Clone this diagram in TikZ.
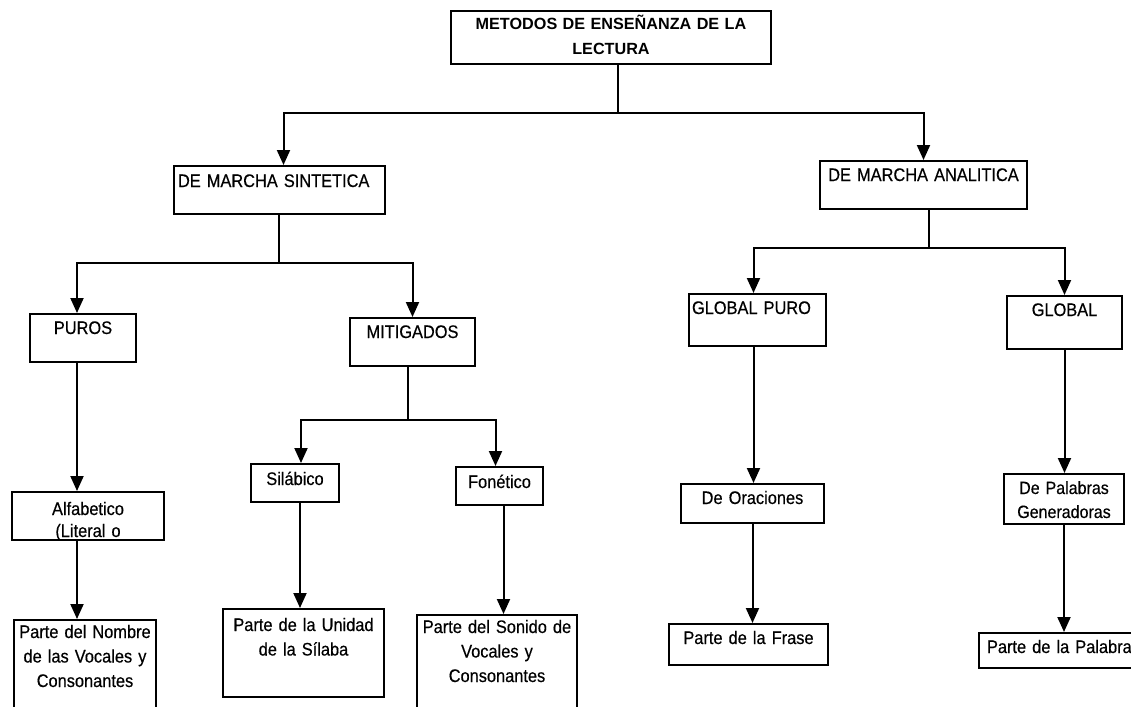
\documentclass[tikz,border=0pt]{standalone}
\usepackage{fontspec}
\setmainfont{Liberation Sans}[FakeStretch=0.9, FakeBold=0.4]
\newfontfamily\titfont{Liberation Sans}
\usetikzlibrary{arrows.meta}
\hyphenpenalty=10000
\tikzset{
  caja/.style={rectangle, draw=black, line width=1pt, inner sep=0pt, anchor=north west, align=center, font=\fontsize{9.1}{12.25}\selectfont},
  linea/.style={line width=1pt},
  flecha/.style={line width=1pt, -{Triangle[length=7.5pt, width=6.5pt]}}
}

\begin{document}
\begin{tikzpicture}[x=0.5pt, y=-0.5pt]
  \clip (0,0) rectangle (1131,707);

  \node (titulo) [caja, text width=160pt, text height=9pt, text depth=17.5pt, font=\titfont\fontsize{8.1}{12.5}\selectfont\bfseries] at (450,10) {METODOS DE ENSEÑANZA DE LA\\ LECTURA};

  \node (sintetica) [caja, align=left, inner xsep=2pt, text width=101.5pt, text height=10.5pt, text depth=13.5pt] at (173,165) {DE MARCHA SINTETICA};
  \node (analitica) [caja, text width=103.5pt, text height=10pt, text depth=14pt] at (819,160) {DE MARCHA ANALITICA};

  \node (puros) [caja, text width=53pt, text height=10pt, text depth=14pt] at (29,313) {PUROS};
  \node (mitigados) [caja, text width=62.5pt, text height=10pt, text depth=14pt] at (349,317) {MITIGADOS};
  \node (globalpuro) [caja, align=left, inner xsep=1.5pt, text width=65.5pt, text height=10pt, text depth=16pt] at (688,293) {GLOBAL PURO};
  \node (global) [caja, text width=57.5pt, text height=10pt, text depth=16.5pt] at (1006,295) {GLOBAL};

  \node (alfabetico) [caja, text width=76pt, text height=11.5pt, text depth=12.5pt, font=\fontsize{9.1}{11}\selectfont] at (11,491) {Alfabetico\\ (Literal o};
  \node (silabico) [caja, text width=44pt, text height=10.5pt, text depth=8.5pt] at (250,463) {Silábico};
  \node (fonetico) [caja, text width=43.5pt, text height=10.5pt, text depth=8.5pt] at (455,466) {Fonético};
  \node (oraciones) [caja, text width=71.5pt, text height=10pt, text depth=9.5pt] at (680,483) {De Oraciones};
  \node (palabras) [caja, text width=60pt, text height=10pt, text depth=15pt, font=\fontsize{8.9}{12}\selectfont] at (1003,473) {De Palabras\\ Generadoras};

  \node (nombre) [caja, text width=71pt, text height=9pt, text depth=41pt] at (13,619) {Parte del Nombre\\ de las Vocales y\\ Consonantes};
  \node (unidad) [caja, text width=80.5pt, text height=11pt, text depth=33pt] at (222,608) {Parte de la Unidad\\ de la Sílaba};
  \node (sonido) [caja, text width=80pt, text height=9pt, text depth=44pt] at (416,614) {Parte del Sonido de\\ Vocales y\\ Consonantes};
  \node (frase) [caja, text width=79.5pt, text height=10pt, text depth=10.5pt] at (668,623) {Parte de la Frase};
  \node (palabra) [caja, align=left, inner xsep=4pt, text width=78pt, text height=10pt, text depth=7.5pt] at (978,632) {Parte de la Palabra};

  \coordinate (b1) at (618,112.5);
  \coordinate (b2) at (278.5,263);
  \coordinate (b3) at (408,420);
  \coordinate (b4) at (929,248);

  \draw [linea] (titulo.south -| b1) -- (b1);
  \draw [flecha] (b1) -| ([xshift=2pt]sintetica.north);
  \draw [flecha] (b1) -| (analitica.north);

  \draw [linea] (sintetica.south -| b2) -- (b2);
  \draw [flecha] (b2) -| ([xshift=-3pt]puros.north);
  \draw [flecha] (b2) -| (mitigados.north);
  \draw [flecha] ([xshift=-3pt]puros.south) -- ([xshift=-3pt]puros.south |- alfabetico.north);
  \draw [flecha] ([xshift=-5.5pt]alfabetico.south) -- ([xshift=-5.5pt]alfabetico.south |- nombre.north);

  \draw [linea] (mitigados.south -| b3) -- (b3);
  \draw [flecha] (b3) -| ([xshift=3pt]silabico.north);
  \draw [flecha] (b3) -| ([xshift=-2pt]fonetico.north);
  \draw [flecha] ([xshift=2.5pt]silabico.south) -- ([xshift=2.5pt]silabico.south |- unidad.north);
  \draw [flecha] ([xshift=2pt]fonetico.south) -- ([xshift=2pt]fonetico.south |- sonido.north);

  \draw [linea] (analitica.south -| b4) -- (b4);
  \draw [flecha] (b4) -| ([xshift=-2pt]globalpuro.north);
  \draw [flecha] (b4) -| (global.north);
  \draw [flecha] ([xshift=-2pt]globalpuro.south) -- ([xshift=-2pt]globalpuro.south |- oraciones.north);
  \draw [flecha] (oraciones.south) -- (oraciones.south |- frase.north);
  \draw [flecha] (global.south) -- (global.south |- palabras.north);
  \draw [flecha] (palabras.south) -- (palabras.south |- palabra.north);

\end{tikzpicture}
\end{document}
